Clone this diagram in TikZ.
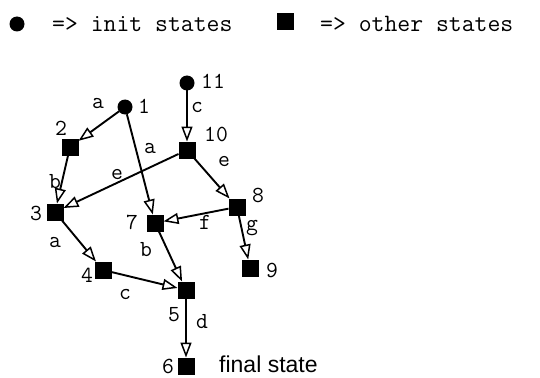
\documentclass[tikz,border=0pt]{standalone}
\usepackage{fontspec}
\setsansfont{Liberation Sans}
\usetikzlibrary{arrows.meta}
\begin{document}
\begin{tikzpicture}[x=1pt,y=-1pt,
  sq/.style={fill=black,minimum size=17pt,inner sep=0pt,outer sep=0pt},
  ci/.style={circle,fill=black,minimum size=15pt,inner sep=0pt,outer sep=0pt},
  lab/.style={font=\fontsize{23}{23}\ttfamily,inner sep=0pt},
  edge/.style={line width=1.9pt,-{Triangle[open,length=15pt,width=11pt,line width=1.5pt]},shorten >=0pt},
  leg/.style={font=\fontsize{25}{25}\ttfamily,anchor=west,inner sep=0pt}]
\useasboundingbox (0,0) rectangle (540,377);
% legend
\node[ci] (lc) at (17,24) {};
\node[leg] (lt1) at (52,24) {=> init states};
\node[sq] (ls) at (285,22) {};
\node[leg] (lt2) at (320,24) {=> other states};
% nodes
\node[ci] (n1) at (125,107) {};
\node[ci] (n11) at (187,83) {};
\node[sq] (n2) at (70,147) {};
\node[sq] (n10) at (187,150) {};
\node[sq] (n3) at (55,212) {};
\node[sq] (n7) at (155,223) {};
\node[sq] (n8) at (237,207) {};
\node[sq] (n9) at (250,268) {};
\node[sq] (n4) at (103,270) {};
\node[sq] (n5) at (186,290) {};
\node[sq] (n6) at (186,366) {};
% node labels
\node[lab] (t1) at (144,106) {1};
\node[lab] (t11) at (213,81) {11};
\node[lab] (t2) at (61,128) {2};
\node[lab] (t10) at (216,134) {10};
\node[lab] (t3) at (36,213) {3};
\node[lab] (t7) at (132,222) {7};
\node[lab] (t8) at (258,195) {8};
\node[lab] (t9) at (272,270) {9};
\node[lab] (t4) at (87,275) {4};
\node[lab] (t5) at (174,315) {5};
\node[lab] (t6) at (168,366) {6};
\node[font=\fontsize{23}{23}\sffamily,anchor=base west,inner sep=0pt] (tf) at (219,372) {final state};
% edges
\draw[edge] (n1) -- (n2);
\draw[edge] (n2) -- (n3);
\draw[edge] (n1) -- (n7);
\draw[edge] (n11) -- (n10);
\draw[edge] (n10) -- (n3);
\draw[edge] (n10) -- (n8);
\draw[edge] (n8) -- (n7);
\draw[edge] (n8) -- (n9);
\draw[edge] (n3) -- (n4);
\draw[edge] (n7) -- (n5);
\draw[edge] (n4) -- (n5);
\draw[edge] (n5) -- (n6);
% edge labels
\node[lab] (ea1) at (98,104) {a};
\node[lab] (eb2) at (55,182) {b};
\node[lab] (ea7) at (150,149) {a};
\node[lab] (ec10) at (197,108) {c};
\node[lab] (ee3) at (117,175) {e};
\node[lab] (ee8) at (224,162) {e};
\node[lab] (ef) at (205,222) {f};
\node[lab] (eg) at (252,228) {g};
\node[lab] (ea4) at (55,243) {a};
\node[lab] (eb5) at (146,250) {b};
\node[lab] (ec5) at (125,295) {c};
\node[lab] (ed) at (202,322) {d};
\end{tikzpicture}
\end{document}
